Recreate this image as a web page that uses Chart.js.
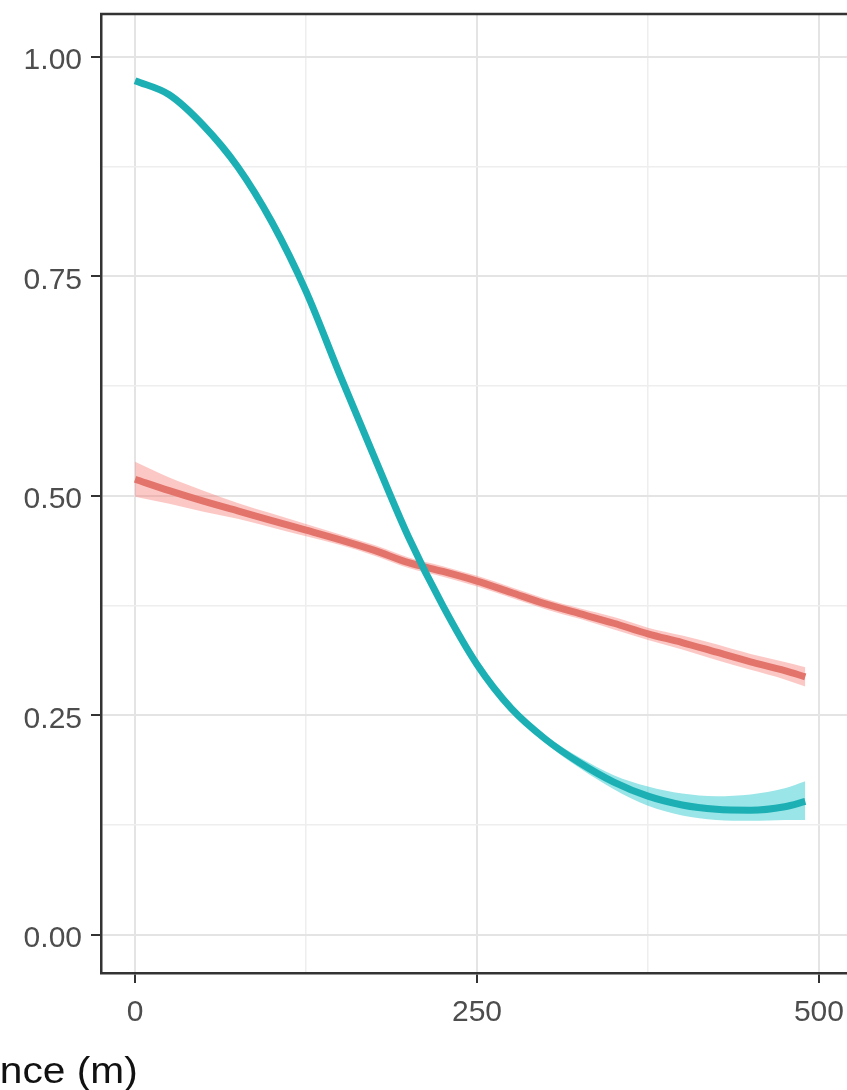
<!DOCTYPE html>
<html>
<head>
<meta charset="utf-8">
<script src="https://cdn.jsdelivr.net/npm/chart.js@4/dist/chart.umd.min.js"></script>
<style>
  html, body { margin: 0; padding: 0; background: #fff; overflow: hidden; }
  #wrap { position: relative; width: 847px; height: 1090px; }
  #xtitle {
    position: absolute; right: 709px; top: 1052px;
    font: 37px "Liberation Sans", Arial, sans-serif; line-height: 1;
    color: #111; white-space: nowrap;
    transform: scaleX(1.1); transform-origin: right center;
  }
</style>
</head>
<body>
<div id="wrap">
  <canvas id="chart" width="847" height="1090"></canvas>
  <div id="xtitle">Distance (m)</div>
</div>
<script>
// distance along x (m)
const distance = [0, 25, 50, 75, 100, 125, 150, 175, 200, 225, 250, 275, 300, 325, 350, 375, 400, 425, 450, 475, 490];

// teal curve and its ribbon
const tealFit   = [0.973, 0.957, 0.922, 0.875, 0.812, 0.733, 0.637, 0.544, 0.453, 0.375, 0.308, 0.258, 0.223, 0.196, 0.174, 0.158, 0.148, 0.143, 0.142, 0.146, 0.152];
const tealLower = [0.971, 0.955, 0.920, 0.873, 0.810, 0.731, 0.635, 0.542, 0.451, 0.373, 0.305, 0.255, 0.219, 0.190, 0.166, 0.147, 0.136, 0.131, 0.130, 0.131, 0.131];
const tealUpper = [0.975, 0.959, 0.924, 0.877, 0.814, 0.735, 0.639, 0.546, 0.455, 0.377, 0.311, 0.261, 0.227, 0.202, 0.182, 0.169, 0.161, 0.158, 0.160, 0.167, 0.175];

// red line and its ribbon
const redFit   = [0.519, 0.506, 0.494, 0.483, 0.472, 0.461, 0.450, 0.438, 0.424, 0.414, 0.403, 0.390, 0.377, 0.366, 0.355, 0.343, 0.333, 0.322, 0.311, 0.301, 0.294];
const redLower = [0.499, 0.491, 0.482, 0.474, 0.464, 0.454, 0.444, 0.432, 0.418, 0.408, 0.397, 0.384, 0.371, 0.360, 0.348, 0.336, 0.325, 0.313, 0.302, 0.291, 0.283];
const redUpper = [0.539, 0.521, 0.506, 0.492, 0.480, 0.468, 0.456, 0.444, 0.430, 0.420, 0.409, 0.396, 0.383, 0.372, 0.362, 0.350, 0.341, 0.331, 0.320, 0.311, 0.305];

// axis ticks (major ones get labels, minor ones only a grid line)
const xTicks = [0, 125, 250, 375, 500];
const xMajor = [0, 250, 500];
const yTicks = [0, 0.125, 0.25, 0.375, 0.5, 0.625, 0.75, 0.875, 1];
const yMajor = [0, 0.25, 0.5, 0.75, 1];

const pts = ys => distance.map((d, i) => ({ x: d, y: ys[i] }));

const tickFont = { family: '"Liberation Sans", Arial, sans-serif', size: 30 };

// ggplot-like panel border on top (the others come from the axes)
const topBorder = {
  id: 'topBorder',
  afterDraw(chart) {
    const a = chart.chartArea, c = chart.ctx;
    c.save();
    c.strokeStyle = '#333';
    c.lineWidth = 2.5;
    c.beginPath();
    c.moveTo(a.left - 1, a.top);
    c.lineTo(a.right, a.top);
    c.stroke();
    c.restore();
  }
};

const line = (data, color) => ({
  data, borderColor: color, borderWidth: 7, pointRadius: 0, fill: false,
  cubicInterpolationMode: 'monotone', borderCapStyle: 'butt'
});
const band = (data, fillTo, color) => ({
  data, borderWidth: 0, pointRadius: 0, borderColor: 'transparent',
  backgroundColor: color, fill: fillTo, cubicInterpolationMode: 'monotone'
});

new Chart(document.getElementById('chart'), {
  type: 'line',
  data: {
    datasets: [
      line(pts(tealFit), '#1cb0b5'),                        // 0
      line(pts(redFit), '#e3746c'),                         // 1
      band(pts(tealLower), false, 'transparent'),            // 2
      band(pts(tealUpper), 2, 'rgba(0,191,196,0.4)'),        // 3
      band(pts(redLower), false, 'transparent'),             // 4
      band(pts(redUpper), 4, 'rgba(248,118,109,0.4)')        // 5
    ]
  },
  options: {
    responsive: false,
    devicePixelRatio: 1,
    animation: false,
    layout: { padding: { top: 14, left: 0, right: 0, bottom: 0 } },
    plugins: { legend: { display: false }, tooltip: { enabled: false } },
    scales: {
      x: {
        type: 'linear', min: -24.9, max: 520.5,
        afterFit: s => { s.height = 117; s.paddingLeft = 0; s.paddingRight = 0; },
        afterBuildTicks: s => { s.ticks = xTicks.map(v => ({ value: v })); },
        border: { display: true, color: '#333', width: 2.5 },
        grid: {
          color: c => xMajor.includes(c.tick.value) ? '#e4e4e4' : '#eeeeee',
          lineWidth: c => xMajor.includes(c.tick.value) ? 2 : 1.5,
          tickColor: c => xMajor.includes(c.tick.value) ? '#333' : 'rgba(0,0,0,0)',
          tickLength: 10, tickWidth: 2
        },
        ticks: {
          autoSkip: false, maxRotation: 0, padding: 12,
          color: '#4d4d4d', font: tickFont,
          callback: v => xMajor.includes(v) ? String(v) : ''
        }
      },
      y: {
        type: 'linear', min: -0.0434, max: 1.049,
        afterFit: s => { s.width = 101; s.paddingTop = 0; s.paddingBottom = 0; },
        afterBuildTicks: s => { s.ticks = yTicks.map(v => ({ value: v })); },
        border: { display: true, color: '#333', width: 2.5 },
        grid: {
          color: c => yMajor.includes(c.tick.value) ? '#e4e4e4' : '#eeeeee',
          lineWidth: c => yMajor.includes(c.tick.value) ? 2 : 1.5,
          tickColor: c => yMajor.includes(c.tick.value) ? '#333' : 'rgba(0,0,0,0)',
          tickLength: 10, tickWidth: 2
        },
        ticks: {
          autoSkip: false, padding: 9, labelOffset: 4,
          color: '#4d4d4d', font: tickFont,
          callback: v => yMajor.includes(v) ? v.toFixed(2) : ''
        }
      }
    }
  },
  plugins: [topBorder]
});
</script>
</body>
</html>
